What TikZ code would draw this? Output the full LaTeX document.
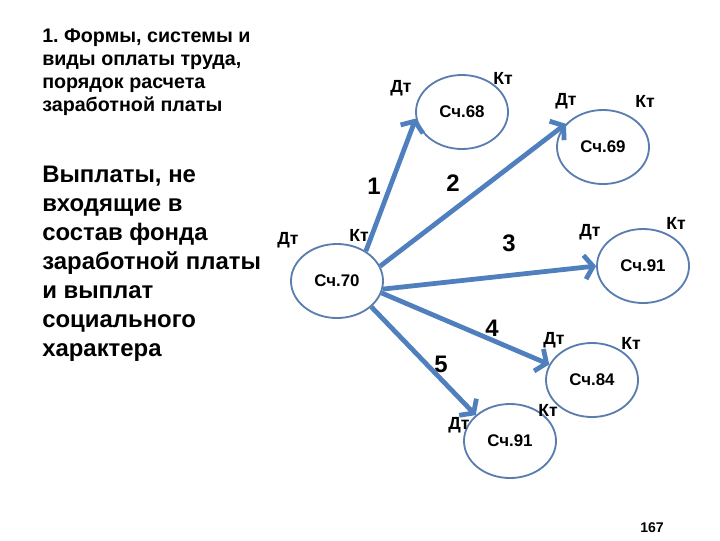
\documentclass[tikz,border=0pt]{standalone}
\usepackage{fontspec}
\setmainfont{Liberation Sans}
\usepackage{tikz}
\usetikzlibrary{shapes.geometric,arrows.meta,positioning}
\definecolor{edge}{HTML}{5A7DAF}
\definecolor{flow}{HTML}{4F7FBD}
\definecolor{ink}{HTML}{000000}

\begin{document}
\begin{tikzpicture}[x=0.025cm,y=-0.025cm,font=\bfseries,
  acc/.style={draw=edge,line width=1.3pt,ellipse,minimum width=2.3cm,minimum height=1.85cm,inner sep=0pt,font=\fontsize{12}{14}\selectfont\bfseries},
  side/.style={font=\fontsize{12.5}{14}\selectfont\bfseries},
  num/.style={font=\fontsize{17}{20}\selectfont\bfseries},
  arr/.style={-{Straight Barb[length=6pt,width=17pt]},line width=3.4pt,flow}]
\useasboundingbox (0,0) rectangle (720,540);
% left texts
\node[anchor=north west,align=left,inner sep=0pt,font=\fontsize{14}{16.2}\selectfont\bfseries] (title) at (42,29)
  {1.\ Формы, системы и\\виды оплаты труда,\\порядок расчета\\заработной платы};
\node[anchor=north west,align=left,inner sep=0pt,font=\fontsize{17}{20.6}\selectfont\bfseries] (pay) at (42,166)
  {Выплаты, не\\входящие в\\состав фонда\\заработной платы\\и выплат\\социального\\характера};
% accounts
\node[acc] (c70) at (337,281) {Сч.70};
\node[acc] (c68) at (462,112) {Сч.68};
\node[acc] (c69) at (603,147) {Сч.69};
\node[acc] (c91) at (643,266) {Сч.91};
\node[acc] (c84) at (592,380) {Сч.84};
\node[acc] (c91b) at (510,441) {Сч.91};
% debit / credit marks
\node[side] (d70) at (288,240) {Дт};  \node[side] (k70) at (359,235) {Кт};
\node[side] (d68) at (401,88) {Дт};   \node[side] (k68) at (503,78) {Кт};
\node[side] (d69) at (566,101) {Дт};  \node[side] (k69) at (645,101) {Кт};
\node[side] (d91) at (590,232) {Дт};  \node[side] (k91) at (676,223) {Кт};
\node[side] (d84) at (554,340) {Дт};  \node[side] (k84) at (631,343) {Кт};
\node[side] (d91b) at (459,425) {Дт}; \node[side] (k91b) at (548,410) {Кт};
% entries
\draw[arr] (c70.46)--(c68.188);
\draw[arr] (c70.19)--(c69.148);
\draw[arr] (c70.-10)--(c91.180);
\draw[arr] (c70.-15)--(c84.160);
\draw[arr] (c70.-37)--(c91b.143);
\node[num] (n1) at (374,186) {1};
\node[num] (n2) at (453,183) {2};
\node[num] (n3) at (509,243) {3};
\node[num] (n4) at (492,328) {4};
\node[num] (n5) at (441,364) {5};
\node[font=\fontsize{10}{12}\selectfont\bfseries] (pg) at (652,528) {167};
\end{tikzpicture}
\end{document}
